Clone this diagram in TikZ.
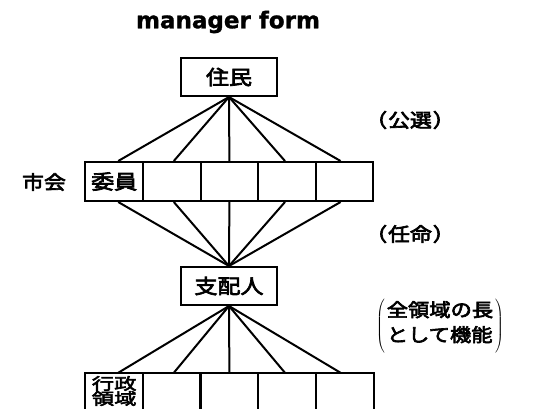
\documentclass[tikz,border=0pt]{standalone}
\usepackage{fontspec}
\newfontfamily\cjk[FakeBold=3.5,FakeStretch=1.15]{Noto Sans CJK JP}
\newfontfamily\cjkw[FakeBold=3.5,FakeStretch=1.4]{Noto Sans CJK JP}
\newfontfamily\titlefont{DejaVu Sans}[BoldFeatures={FakeBold=1.2}]
\begin{document}
\begin{tikzpicture}[x=1pt,y=-1pt,
  ln/.style={line width=2pt},
  boxnode/.style={draw,line width=2pt,minimum width=96pt,minimum height=38pt,inner sep=0pt,font=\cjk\fontsize{20}{20}\selectfont},
  cell/.style={draw,line width=2pt,minimum width=57.6pt,minimum height=39pt,inner sep=0pt,font=\cjk\fontsize{20}{20}\selectfont},
  bcell/.style={minimum width=57.6pt,minimum height=36pt,inner sep=0pt},
  lbl/.style={inner sep=0pt,font=\cjk\fontsize{19}{19}\selectfont}]
\useasboundingbox (0,0) rectangle (536,408);
\fill[white] (0,0) rectangle (536,408);
% title
\node[inner sep=0pt,font=\titlefont\bfseries\fontsize{23}{23}\selectfont] (title) at (228,22) {manager form};
% top box
\node[boxnode] (res) at (229,77) {住民};
% council
\node[cell] (c1) at (114.2,181.5) {委員};
\foreach \i/\x in {2/171.8,3/229.4,4/287,5/344.6}{
  \node[cell] (c\i) at (\x,181.5) {};
}
% manager box
\node[boxnode] (mgr) at (229,286) {支配人};
% bottom cells
\node[bcell, align=center, font=\cjkw\fontsize{16}{15}\selectfont] (b1) at (114.2,391) {行政\\領域};
\foreach \i/\x in {2/171.8,3/229.4,4/287,5/344.6}{
  \node[bcell] (b\i) at (\x,391) {};
}
\foreach \i in {1,...,5}{
  \draw[ln] (b\i.south west) -- (b\i.north west) -- (b\i.north east) -- (b\i.south east);
}
% connectors
\foreach \i/\s in {1/4,2/2,3/0,4/-2,5/-4}{
  \draw[ln] (res.south) -- ([xshift=\s pt]c\i.north);
  \draw[ln] ([xshift=\s pt]c\i.south) -- (mgr.north);
  \draw[ln] (mgr.south) -- ([xshift=\s pt]b\i.north);
}
% labels
\node[lbl] (shikai) at (44,182) {市会};
\node[lbl] (kousen) at (410,120) {（\hspace{1pt}公選\hspace{1pt}）};
\node[lbl] (ninmei) at (410,234) {（\hspace{1pt}任命\hspace{1pt}）};
\node[inner sep=0pt] (zen) at (440,326) {$\left(\hspace{2pt}\mbox{\cjk\fontsize{18.5}{25}\selectfont\begin{tabular}{@{}l@{}}全領域の長\\として機能\end{tabular}}\hspace{2pt}\right)$};
\end{tikzpicture}
\end{document}
